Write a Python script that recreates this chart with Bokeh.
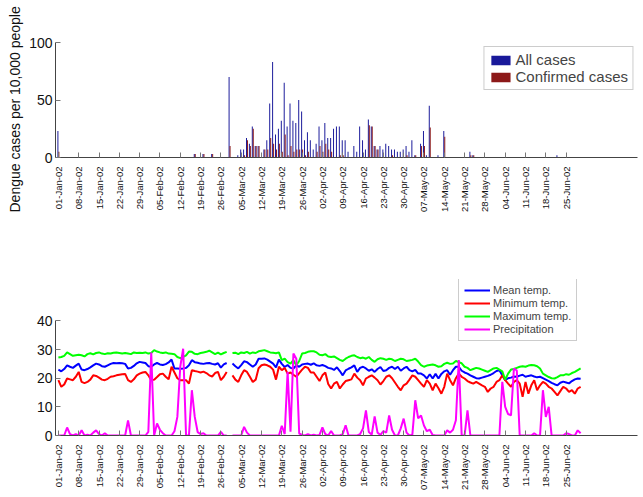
import numpy as np
import pandas as pd
from bokeh.plotting import figure
from bokeh.layouts import column
from bokeh.models import FixedTicker, Legend, LegendItem, Title
from bokeh.embed import file_html
from bokeh.resources import INLINE

start_date = "2002-01-01"
tick_labels = ["01-Jan-02", "08-Jan-02", "15-Jan-02", "22-Jan-02", "29-Jan-02",
               "05-Feb-02", "12-Feb-02", "19-Feb-02", "26-Feb-02", "05-Mar-02",
               "12-Mar-02", "19-Mar-02", "26-Mar-02", "02-Apr-02", "09-Apr-02",
               "16-Apr-02", "23-Apr-02", "30-Apr-02", "07-May-02", "14-May-02",
               "21-May-02", "28-May-02", "04-Jun-02", "11-Jun-02", "18-Jun-02",
               "25-Jun-02"]

# Dengue cases per 10,000 people, daily 01-Jan-02 .. 30-Jun-02
all_cases = [23, 0, 0, 0, 0, 0, 0, 0, 0, 0,
             0, 0, 0, 0, 0, 0, 0, 0, 0, 0,
             0, 0, 0, 0, 0, 0, 0, 0, 0, 0,
             0, 0, 0, 0, 0, 0, 0, 0, 0, 0,
             0, 0, 0, 0, 0, 0, 0, 3, 0, 0,
             3, 0, 0, 3, 0, 0, 0, 0, 0, 70,
             0, 0, 2, 7, 7, 17, 12, 27, 10, 10,
             0, 7, 15, 47, 83, 20, 25, 32, 65, 27,
             47, 32, 30, 50, 40, 15, 22, 15, 7, 12,
             27, 15, 30, 17, 17, 25, 27, 27, 15, 15,
             5, 0, 10, 5, 27, 15, 7, 33, 27, 10,
             7, 10, 7, 12, 10, 7, 7, 5, 5, 7,
             10, 5, 15, 2, 0, 12, 23, 2, 45, 0,
             0, 2, 0, 23, 0, 0, 0, 0, 0, 0,
             0, 0, 5, 2, 0, 0, 0, 0, 0, 0,
             0, 0, 0, 0, 0, 0, 0, 0, 0, 0,
             0, 0, 0, 0, 0, 0, 0, 0, 0, 0,
             0, 0, 2, 0, 0, 0, 0, 0, 0, 0, 0]
confirmed_cases = [5, 0, 0, 0, 0, 0, 0, 0, 0, 0,
                   0, 0, 0, 0, 0, 0, 0, 0, 0, 0,
                   0, 0, 0, 0, 0, 0, 0, 0, 0, 0,
                   0, 0, 0, 0, 0, 0, 0, 0, 0, 0,
                   0, 0, 0, 0, 0, 0, 0, 3, 0, 0,
                   3, 0, 0, 3, 0, 0, 0, 0, 0, 10,
                   0, 0, 0, 0, 2, 15, 10, 25, 10, 10,
                   0, 7, 7, 17, 12, 7, 12, 5, 20, 2,
                   10, 5, 7, 7, 7, 2, 5, 0, 0, 5,
                   10, 5, 12, 7, 5, 0, 0, 2, 2, 0,
                   0, 0, 0, 0, 0, 0, 0, 28, 27, 10,
                   7, 0, 0, 0, 0, 2, 0, 0, 0, 0,
                   2, 0, 0, 2, 0, 10, 10, 0, 26, 0,
                   0, 0, 0, 18, 0, 0, 0, 0, 0, 0,
                   0, 0, 2, 2, 0, 0, 0, 0, 0, 0,
                   0, 0, 0, 0, 0, 0, 0, 0, 0, 0,
                   0, 0, 0, 0, 0, 0, 0, 0, 0, 0,
                   0, 0, 0, 0, 0, 0, 0, 0, 0, 0, 0]

nan = float("nan")
mean_temp = [23.0, 22.4, 23.2, 24.5, 24.0, 23.6, 24.4, 25.1, 23.0, 22.8,
             23.2, 23.8, 24.5, 25.1, 24.8, 24.2, 24.0, 24.5, 25.0, 25.3,
             25.2, 25.3, 25.2, 25.0, 23.4, 23.6, 24.3, 25.2, 25.7, 25.5,
             25.3, 24.2, 24.0, 24.8, 25.3, 24.8, 24.6, 24.9, 25.5, 26.5,
             23.4, 23.4, 23.3, 23.4, 23.6, 24.5, 26.3, 25.6, 25.4, 25.1,
             25.0, 25.2, 25.3, 25.0, 24.8, 25.2, 23.7, 24.8, 25.3, nan,
             25.1, 24.2, 23.4, 24.6, 25.9, 25.6, 24.8, 24.0, 24.8, 26.8,
             26.8, 26.9, 26.5, 25.8, 25.1, 23.8, 26.5, 25.0, 23.9, 24.6,
             23.6, 23.4, 24.5, 24.0, 24.8, 25.0, 25.1, 24.7, 25.2, 24.5,
             24.3, 24.6, 24.2, 23.6, 23.4, 22.9, 23.8, 22.5, 21.0, 22.7,
             23.3, 23.8, 24.5, 22.2, 23.6, 24.0, 23.4, 22.6, 23.1, 22.2,
             23.2, 23.9, 22.5, 22.8, 23.6, 24.0, 23.2, 24.0, 22.6, 23.4,
             24.0, 22.8, 22.4, 22.9, 21.6, 21.6, 21.0, 19.9, 21.4, 19.9,
             21.5, 19.9, 21.5, 22.4, 22.8, 21.2, 22.8, 24.0, 24.0, 22.6,
             22.0, 21.6, 21.0, 20.5, 20.0, 19.9, 20.2, 20.5, 20.8, 21.2,
             21.8, 22.5, 22.8, 21.0, 19.3, 20.0, 20.2, 20.6, 20.5, 20.9,
             21.2, 20.5, 20.8, 21.0, 20.6, 20.3, 20.5, 20.0, 19.5, 19.0,
             18.4, 17.9, 17.5, 18.4, 18.8, 18.5, 18.2, 19.0, 19.6, 19.9, 19.8]
min_temp = [19.3, 17.0, 17.8, 19.9, 19.6, 19.3, 20.5, 22.2, 18.7, 18.3,
            18.7, 19.5, 21.0, 20.8, 20.2, 19.5, 19.3, 19.8, 20.5, 20.7,
            21.0, 21.2, 21.4, 21.5, 19.3, 18.7, 19.6, 21.0, 21.6, 22.0,
            22.2, 21.0, 19.3, 19.5, 20.4, 21.4, 21.6, 20.5, 19.6, 24.0,
            22.0, 20.0, 19.3, 19.3, 19.3, 18.1, 22.8, 22.5, 22.3, 22.0,
            22.3, 21.8, 21.0, 20.6, 21.8, 22.2, 19.3, 20.5, 22.2, nan,
            21.0, 19.5, 18.7, 21.0, 22.8, 22.2, 20.5, 18.7, 19.5, 23.5,
            24.5, 24.8, 24.5, 24.0, 23.0, 19.5, 24.0, 22.8, 23.6, 21.6,
            22.0, 21.2, 20.5, 21.8, 23.0, 24.0, 23.6, 22.0, 22.0, 20.5,
            19.0, 21.0, 22.0, 18.0, 16.4, 18.1, 18.7, 16.4, 17.8, 19.0,
            19.3, 19.6, 21.6, 20.2, 19.3, 17.5, 19.9, 20.5, 21.0, 20.2,
            19.3, 17.8, 19.0, 20.5, 21.0, 20.0, 18.5, 17.0, 15.8, 17.5,
            18.1, 19.5, 21.0, 20.5, 19.3, 18.1, 17.0, 19.3, 18.1, 15.8,
            18.1, 16.5, 14.6, 17.0, 21.6, 19.3, 17.5, 20.0, 21.6, 20.5,
            19.9, 19.0, 18.5, 18.1, 18.7, 18.1, 17.5, 17.0, 15.2, 16.4,
            17.0, 18.7, 19.3, 21.0, 19.3, 18.1, 17.0, 18.7, 19.3, 18.1,
            13.5, 18.7, 14.6, 17.5, 19.3, 15.8, 17.5, 18.7, 18.1, 17.0,
            16.4, 15.2, 14.0, 15.5, 17.0, 16.4, 15.2, 15.8, 14.6, 16.4, 17.0]
max_temp = [27.2, 27.4, 27.8, 29.0, 28.4, 27.8, 28.0, 28.2, 28.0, 27.6,
            28.4, 28.7, 28.3, 28.8, 29.0, 28.6, 28.4, 28.7, 28.6, 28.9,
            29.0, 28.8, 28.6, 28.8, 28.6, 28.4, 29.0, 28.8, 28.9, 28.8,
            29.0, 28.6, 28.8, 29.8, 29.3, 29.0, 28.8, 29.0, 28.6, 28.5,
            28.4, 27.4, 27.0, 27.4, 28.0, 29.3, 29.2, 28.5, 28.4, 28.8,
            29.0, 29.2, 29.6, 29.0, 28.4, 28.9, 28.3, 28.8, 29.2, nan,
            28.8, 28.9, 28.4, 29.0, 28.8, 29.2, 28.6, 29.0, 28.8, 29.4,
            29.6, 29.8, 29.4, 29.0, 28.9, 28.7, 29.0, 26.3, 26.8, 25.6,
            25.1, 26.3, 24.5, 26.0, 28.6, 28.8, 29.2, 29.4, 29.4, 29.0,
            28.2, 28.0, 28.4, 27.6, 27.4, 27.6, 27.0, 26.4, 26.0, 26.8,
            27.4, 27.8, 28.0, 27.4, 27.0, 27.2, 26.8, 27.4, 26.4, 25.7,
            26.6, 27.0, 26.8, 26.4, 26.8, 26.6, 26.0, 26.4, 26.8, 26.6,
            26.0, 26.2, 26.4, 26.8, 25.8, 24.6, 24.0, 24.4, 24.6, 24.8,
            24.5, 24.0, 24.2, 25.0, 25.4, 25.0, 25.1, 26.0, 25.6, 25.2,
            24.0, 23.6, 22.8, 23.2, 23.6, 23.4, 23.0, 22.6, 22.2, 22.8,
            23.4, 23.6, 23.0, 22.4, 19.5, 21.6, 23.0, 23.2, 23.6, 24.0,
            24.2, 24.0, 24.4, 24.6, 24.5, 24.2, 23.4, 21.6, 21.0, 20.4,
            20.0, 19.9, 20.4, 21.0, 21.0, 21.4, 21.2, 21.8, 22.2, 22.8, 23.4]
precipitation = [0, 0, 0, 2.8, 0.5, 0, 0.5, 0, 1.8, 0,
                 0.3, 0, 1.0, 1.8, 0.5, 0, 0.8, 0, 0, 0,
                 0, 0, 0, 0, 5.3, 0, 0, 0, 0, 0,
                 0, 1.3, 29.0, 0, 4.2, 2.0, 0.8, 0, 0, 0,
                 1.5, 6.5, 24.0, 30.3, 0, 0, 15.8, 6.5, 1.2, 0.5,
                 0.8, 0, 0, 0, 0, 0, 1.3, 0, 0, nan,
                 0, 0, 0, 0, 3.0, 1.0, 0, 0, 0, 0,
                 0, 0, 0, 0, 0, 0, 0, 3.4, 0.5, 22.2,
                 1.3, 28.6, 26.8, 0.7, 0.2, 0, 0.5, 0, 0.3, 0,
                 0.2, 2.8, 0.5, 0, 1.6, 0, 0, 0, 0.5, 3.6,
                 0, 0, 0, 0, 0.5, 2.5, 8.8, 1.2, 0.3, 6.7,
                 1.0, 0.2, 1.5, 1.0, 7.0, 2.0, 0, 0, 2.5, 5.9,
                 1.0, 0, 0.3, 12.3, 6.0, 7.0, 3.5, 1.5, 2.0, 0.2,
                 0, 0, 0, 0, 1.8, 1.0, 2.0, 5.3, 26.3, 0,
                 0, 8.8, 0, 0, 0, 0, 0, 0, 0, 0,
                 0, 0, 0, 18.7, 10.0, 7.5, 7.0, 23.4, 22.7, 0,
                 0, 0, 0, 0, 0.8, 0, 0, 15.8, 6.5, 10.0,
                 0, 0, 0, 0, 0, 0.8, 0.5, 0, 0, 1.8, 0.8]

days = np.arange(len(all_cases))
t0 = pd.Timestamp(start_date)
tick_days = [int((pd.to_datetime(s, format="%d-%b-%y") - t0).days) for s in tick_labels]

FONT = "Liberation Sans"
X_RANGE = (-1, 199.6)


def style(p, yticks, ybounds):
    p.xgrid.visible = False
    p.ygrid.visible = False
    p.outline_line_color = None
    p.xaxis.ticker = FixedTicker(ticks=tick_days)
    p.xaxis.major_label_overrides = {d: s for d, s in zip(tick_days, tick_labels)}
    p.xaxis.major_label_orientation = np.pi / 2
    p.xaxis.major_label_text_font_size = "9.5px"
    p.xaxis.major_label_standoff = 9
    p.yaxis.ticker = FixedTicker(ticks=yticks)
    p.yaxis.bounds = ybounds
    p.yaxis.major_label_text_font_size = "14px"
    p.yaxis.major_label_standoff = 3
    for ax in (p.xaxis[0], p.yaxis[0]):
        ax.axis_line_color = "#444444"
        ax.axis_line_width = 1
        ax.major_tick_in = 5
        ax.major_tick_out = 0
        ax.major_tick_line_color = "#777777"
        ax.minor_tick_line_color = None
        ax.major_label_text_font = FONT
        ax.major_label_text_color = "#111111"


# ---------- top: dengue cases ----------
p1 = figure(frame_width=582, frame_height=115, x_range=X_RANGE, y_range=(0, 100),
            output_backend="svg", toolbar_location=None,
            min_border_left=54, min_border_top=42, min_border_right=5,
            min_border_bottom=113)
style(p1, [0, 50, 100], (0, 100))
r_all = p1.vbar(x=days - 0.17, top=all_cases, width=0.34, bottom=0,
                fill_color="#00008F", fill_alpha=0.9, line_color=None)
r_conf = p1.vbar(x=days + 0.17, top=confirmed_cases, width=0.34, bottom=0,
                 fill_color="#800000", fill_alpha=0.9, line_color=None)
leg1 = Legend(items=[LegendItem(label="All cases", renderers=[r_all]),
                     LegendItem(label="Confirmed cases", renderers=[r_conf])],
              location="top_right", margin=4, padding=4, spacing=0,
              glyph_width=24, glyph_height=12, label_height=16, label_standoff=3,
              label_text_font=FONT, label_text_font_size="15px",
              border_line_color="#999999", border_line_width=1,
              background_fill_alpha=1.0)
p1.add_layout(leg1)
p1.add_layout(Title(text="Dengue cases per 10,000 people", align="left",
                    offset=-55, standoff=8, text_font=FONT,
                    text_font_size="14px", text_font_style="normal",
                    text_color="#111111"), "left")

# ---------- bottom: weather ----------
# frame extends above 40 so that the legend can sit above the axis top
p2 = figure(frame_width=582, frame_height=156, x_range=X_RANGE, y_range=(0, 54.45),
            output_backend="svg", toolbar_location=None,
            min_border_left=54, min_border_top=9, min_border_right=5,
            min_border_bottom=55)
style(p2, [0, 10, 20, 30, 40], (0, 40))
r_mean = p2.line(days, mean_temp, line_color="#0000FF", line_width=2)
r_min = p2.line(days, min_temp, line_color="#FF0000", line_width=2)
r_max = p2.line(days, max_temp, line_color="#00FF00", line_width=2)
r_prec = p2.line(days, precipitation, line_color="#FF00FF", line_width=2)
leg2 = Legend(items=[LegendItem(label="Mean temp.", renderers=[r_mean]),
                     LegendItem(label="Minimum temp.", renderers=[r_min]),
                     LegendItem(label="Maximum temp.", renderers=[r_max]),
                     LegendItem(label="Precipitation", renderers=[r_prec])],
              location=(403, 94), padding=5, spacing=0,
              glyph_width=26, glyph_height=12, label_height=13, label_standoff=3,
              label_text_font=FONT, label_text_font_size="11px",
              border_line_color="#999999", border_line_width=1,
              background_fill_alpha=1.0)
p2.add_layout(leg2)

layout = column(p1, p2, spacing=0)
open("out.html", "w").write(file_html(layout, INLINE))
